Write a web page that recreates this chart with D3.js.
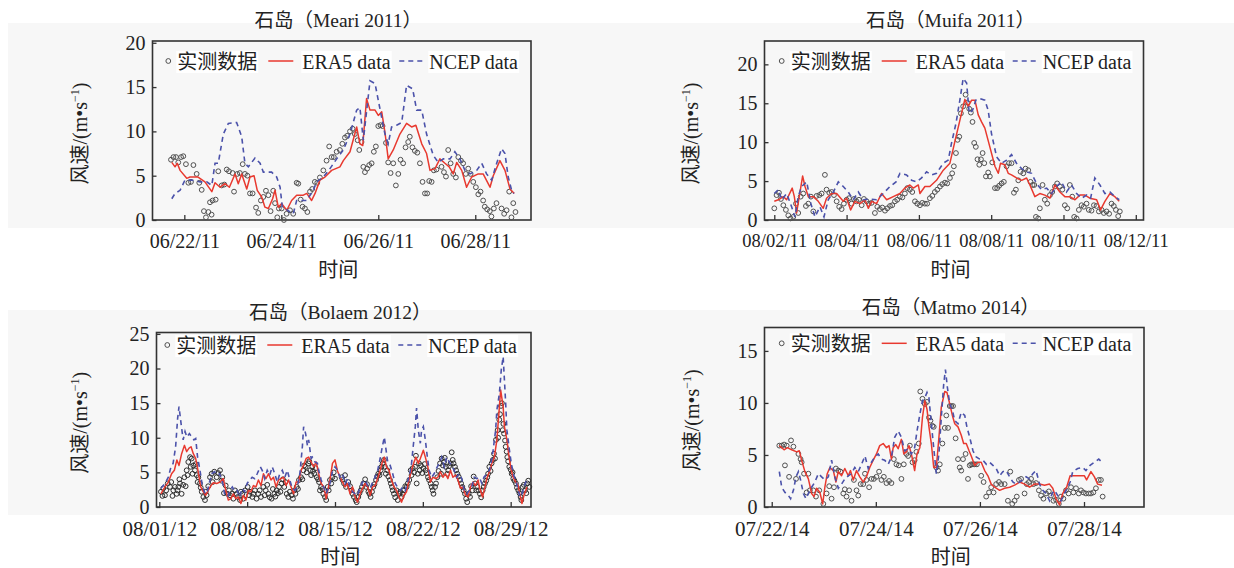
<!DOCTYPE html>
<html>
<head>
<meta charset="utf-8">
<script src="https://cdn.jsdelivr.net/npm/d3@7"></script>
<style>
  body { margin: 0; background: #fff; }
  svg { display: block; }
</style>
</head>
<body>
<svg id="chart" width="1234" height="568"></svg>
<script>
// ---- Meari 2011 : [hours after 06/22 00:00, wind speed] ----
const meariObs = [[-6.6,6.8],[-5.4,7.1],[-4.1,7.1],[-3.0,6.5],[-1.6,7.1],[-0.5,7.2],[0.8,6.3],[2.0,4.2],[3.3,4.3],[4.5,6.2],[6.1,5.2],[7.4,4.2],[8.6,3.4],[9.7,1.0],[10.7,0.3],[11.9,0.9],[12.7,2.0],[13.5,0.6],[14.0,2.2],[15.5,2.3],[16.8,5.5],[18.5,3.9],[19.8,4.0],[21.0,5.7],[22.1,5.5],[23.9,5.3],[24.6,3.2],[26.2,5.2],[27.5,5.3],[28.9,6.3],[30.0,5.2],[31.2,5.0],[32.5,3.0],[33.8,3.0],[35.5,1.4],[36.6,0.8],[37.9,2.2],[39.1,2.6],[40.4,3.3],[41.6,2.8],[42.7,1.0],[44.0,3.3],[44.9,1.9],[46.0,0.3],[46.8,1.3],[48.2,1.3],[49.3,0.0],[50.6,0.7],[52.3,1.1],[53.9,0.7],[55.6,4.2],[56.4,4.1],[57.6,2.3],[58.5,1.5],[59.7,1.3],[60.9,0.9],[62.2,3.2],[63.3,3.5],[64.6,4.3],[65.8,4.2],[67.1,4.8],[68.8,5.6],[70.4,6.7],[71.7,8.3],[72.9,7.1],[74.0,7.1],[75.4,7.7],[77.0,7.9],[78.2,8.6],[79.5,9.3],[80.6,9.5],[82.0,10.0],[83.3,10.3],[84.4,9.7],[85.8,9.0],[86.6,7.9],[87.7,8.8],[88.6,6.0],[89.4,5.4],[90.5,5.8],[91.5,6.2],[92.7,6.4],[93.8,7.7],[94.8,8.3],[96.0,10.6],[97.1,10.7],[98.1,10.6],[99.8,8.7],[100.9,6.5],[102.1,5.3],[103.4,6.4],[104.7,3.9],[105.9,5.2],[107.0,6.8],[108.3,6.4],[109.5,8.2],[110.8,8.8],[111.6,9.4],[112.9,8.2],[114.1,7.8],[115.3,7.6],[116.6,6.4],[117.9,4.3],[119.1,3.0],[120.2,3.0],[121.2,4.4],[122.4,4.3],[123.5,5.6],[124.8,5.7],[127.3,6.0],[128.5,5.4],[129.5,4.9],[130.6,7.9],[131.8,6.4],[133.1,5.2],[134.4,4.8],[135.6,7.1],[136.9,6.7],[138.0,6.4],[139.3,5.2],[140.5,5.8],[141.7,5.2],[143.0,4.3],[144.3,3.7],[145.5,2.9],[146.6,3.2],[147.9,2.2],[148.7,1.5],[149.9,1.2],[151.2,1.0],[152.0,0.4],[153.2,1.3],[154.5,1.9],[157.0,1.3],[158.3,0.7],[159.5,1.1],[160.8,3.2],[161.9,0.3],[162.8,1.9],[163.9,0.9]]
const meariEra5 = [[-6.2,6.5],[-4.6,6.0],[-3.5,6.4],[-2.1,5.6],[1.2,4.7],[2.8,4.85],[6.8,4.85],[10.2,4.3],[13.6,3.2],[15.2,4.2],[17.7,3.7],[20.1,4.1],[22.3,3.7],[25.1,5.2],[26.7,4.1],[28.4,5.2],[30.9,3.5],[32.5,4.85],[34.5,5.0],[36.1,3.35],[38.3,2.6],[39.9,1.45],[41.6,1.3],[43.7,2.4],[44.9,3.35],[46.5,1.45],[48.2,1.85],[50.7,1.1],[53.1,2.2],[55.6,2.8],[58.9,2.8],[60.6,3.0],[63.0,2.2],[64.7,3.0],[67.1,4.5],[69.6,4.85],[72.9,5.6],[77.0,6.0],[78.7,6.7],[82.0,7.7],[85.3,10.5],[86.9,8.6],[88.3,8.4],[90.2,13.7],[91.9,12.4],[94.4,12.4],[96.0,11.8],[97.7,12.2],[99.3,9.9],[100.9,6.9],[103.4,7.9],[106.7,9.7],[110.0,10.9],[112.5,10.5],[114.6,10.7],[117.5,8.6],[119.9,7.5],[121.6,5.6],[124.1,5.8],[126.5,6.9],[129.0,6.4],[131.1,6.0],[133.1,5.2],[134.8,6.5],[137.3,5.6],[139.7,3.7],[142.2,4.85],[145.5,5.2],[147.9,5.2],[151.3,3.7],[152.9,5.0],[156.2,6.7],[158.7,5.6],[161.2,3.5],[163.3,3.0]]
const meariNcep = [[-6.2,2.4],[-4.6,3.0],[-2.1,3.35],[0.3,4.5],[3.7,4.5],[7.8,4.3],[11.1,4.3],[13.6,3.9],[15.2,6.4],[16.8,6.4],[19.3,9.7],[21.8,10.9],[25.9,11.0],[28.4,9.4],[30.0,6.4],[31.7,6.0],[35.0,7.0],[37.5,6.4],[39.1,5.4],[43.2,5.4],[45.7,4.85],[47.4,3.7],[48.5,1.45],[53.9,0.7],[55.6,2.2],[60.6,2.2],[63.8,3.35],[65.5,4.3],[68.8,4.85],[72.1,5.8],[75.4,6.9],[78.7,7.9],[82.0,9.7],[85.3,12.4],[86.9,12.7],[88.6,9.0],[91.9,15.7],[94.4,15.4],[96.0,13.5],[99.3,9.7],[100.9,8.6],[102.6,10.5],[105.1,10.7],[107.6,11.0],[110.0,15.2],[113.0,14.8],[115.0,12.4],[117.5,12.4],[119.9,9.7],[123.2,7.3],[125.7,6.5],[128.2,6.9],[131.5,6.9],[133.9,7.7],[136.4,6.9],[138.9,5.6],[141.4,5.2],[144.7,5.6],[147.2,6.4],[149.6,5.2],[152.1,4.5],[154.6,6.4],[157.0,8.05],[158.7,7.5],[160.3,4.85],[162.0,3.35],[163.1,3.0]]
const meariTicks = ['2011-06-22', '2011-06-24', '2011-06-26', '2011-06-28']

// ---- Muifa 2011 : [hours after 08/02 00:00, wind speed] ----
const muifaObs = [[0,1.5],[1.5,3.2],[3.1,3.5],[4.4,2.7],[6.0,1.9],[7.7,1.3],[9.3,0.6],[10.8,0.2],[12.6,0.4],[14.4,2.1],[15.9,0.9],[17.5,3.0],[19.2,3.4],[21.0,1.8],[22.6,2.1],[24.3,3.0],[25.9,1.1],[28.1,3.1],[29.9,3.2],[31.4,3.4],[33.6,5.8],[34.7,3.9],[36.5,3.5],[38.1,3.6],[39.6,3.2],[41.4,2.4],[43.1,1.7],[44.7,1.4],[46.2,2.1],[48.0,2.6],[49.6,2.8],[51.3,2.1],[52.9,2.7],[54.6,2.4],[56.2,2.6],[58.0,1.9],[59.5,2.7],[61.3,2.4],[62.8,2.1],[64.6,2.2],[66.8,0.9],[68.4,1.7],[70.1,1.4],[71.7,1.6],[73.5,1.2],[75.0,1.5],[76.8,1.8],[78.3,1.9],[80.1,2.4],[81.6,2.6],[83.4,3.0],[85.0,2.9],[86.7,3.4],[88.3,4.1],[90.0,3.9],[91.6,3.6],[93.4,2.4],[94.9,2.1],[96.7,1.9],[98.2,2.2],[100.0,2.1],[101.5,2.1],[103.3,2.8],[104.9,3.1],[106.6,3.6],[108.2,3.9],[110.0,4.3],[111.5,4.6],[113.3,4.8],[114.8,4.7],[116.6,5.4],[118.1,6.0],[119.2,6.9],[120.6,8.6],[121.7,10.3],[122.8,10.7],[123.9,13.7],[125.4,14.6],[127.0,16.1],[128.1,15.1],[129.4,14.3],[130.5,13.8],[131.6,12.6],[132.7,9.9],[133.8,9.4],[134.9,7.8],[136.1,7.1],[137.2,7.8],[138.3,8.6],[139.4,7.3],[140.5,5.6],[142.0,6.1],[143.1,5.6],[144.7,7.4],[146.5,4.1],[148.0,4.1],[149.3,4.4],[150.9,4.7],[152.4,4.9],[154.2,6.9],[155.8,7.3],[157.5,7.3],[159.1,3.5],[160.4,3.9],[162.0,5.1],[163.5,6.2],[165.3,6.0],[166.8,6.6],[168.6,6.4],[170.1,4.9],[171.5,4.5],[172.6,4.5],[173.7,0.4],[175.2,0.2],[176.3,1.5],[178.1,4.5],[179.6,2.6],[181.2,2.1],[183.0,3.2],[184.5,3.6],[186.3,4.3],[187.8,4.7],[189.6,4.3],[191.2,3.9],[192.9,1.9],[194.5,1.5],[196.2,4.5],[197.8,3.0],[199.1,0.4],[200.7,0.2],[202.2,1.3],[204.0,1.9],[205.5,1.7],[207.3,2.1],[208.8,1.3],[210.6,1.2],[212.2,1.9],[213.9,1.8],[215.5,1.1],[217.3,1.3],[218.8,0.9],[220.6,1.1],[222.3,0.8],[223.9,2.1],[225.4,1.8],[226.8,1.3],[228.3,0.5],[229.4,1.1]]
const muifaEra5 = [[0,2.4],[2.7,2.6],[6.0,3.0],[8.2,2.6],[11.9,4.1],[13.3,3.0],[14.8,0.9],[18.8,5.65],[20.4,4.3],[22.6,3.0],[25.9,3.0],[29.2,2.4],[32.5,1.5],[34.7,2.8],[38.1,3.4],[41.4,3.4],[45.8,2.4],[48.0,2.8],[50.7,1.3],[53.5,2.4],[56.9,2.1],[60.2,2.6],[62.4,1.5],[64.6,2.4],[67.9,2.1],[71.2,3.4],[74.6,2.6],[79.0,3.0],[83.4,3.4],[86.7,4.1],[90.0,4.5],[92.3,4.1],[95.6,4.5],[96.7,3.4],[100.0,4.3],[103.3,4.3],[107.7,5.1],[112.2,6.4],[116.6,7.3],[119.9,10.1],[123.2,12.8],[126.5,15.5],[128.8,14.6],[131.0,15.4],[133.2,15.4],[135.4,13.5],[137.6,12.6],[139.8,11.8],[143.1,9.4],[146.5,6.9],[148.7,6.0],[150.2,7.3],[153.1,7.1],[155.3,6.0],[157.5,5.8],[160.8,5.4],[164.2,5.1],[167.5,5.4],[169.7,4.5],[173.0,3.0],[176.3,3.4],[179.6,3.2],[183.0,2.8],[186.3,4.5],[189.6,3.6],[192.9,3.0],[196.2,3.0],[199.6,2.6],[202.9,3.2],[206.2,3.2],[209.5,2.8],[214.0,2.6],[216.6,1.3],[219.5,2.4],[222.8,3.4],[226.1,3.0],[229.0,2.4]]
const muifaNcep = [[0,3.4],[2.7,3.9],[4.9,2.6],[8.2,3.4],[11.5,1.7],[13.7,0.4],[15.9,3.0],[18.1,4.3],[21.5,4.9],[24.3,2.1],[27.0,0.4],[30.3,1.7],[33.0,0.4],[35.8,2.6],[39.2,3.6],[42.5,4.9],[45.8,4.3],[49.1,3.6],[52.4,2.6],[55.8,3.6],[59.1,2.6],[63.5,2.7],[67.9,2.6],[72.3,3.4],[76.8,4.3],[80.8,4.9],[83.4,6.0],[87.8,5.8],[91.2,5.1],[94.5,4.9],[97.8,5.4],[101.1,6.2],[104.4,5.8],[107.7,6.0],[112.2,7.3],[115.5,7.7],[117.7,9.9],[120.6,12.4],[123.2,15.4],[125.4,18.2],[127.7,17.6],[129.4,13.7],[131.6,14.1],[133.8,15.4],[136.5,15.6],[139.8,15.4],[142.0,14.1],[144.2,11.1],[147.6,8.1],[150.9,7.3],[154.2,7.7],[157.5,8.4],[160.8,7.3],[164.2,6.6],[167.5,6.2],[170.8,6.0],[174.1,4.7],[177.4,3.9],[180.8,4.1],[184.1,3.4],[187.4,4.3],[190.7,4.9],[194.0,3.6],[197.3,4.5],[200.7,3.4],[204.0,2.8],[207.3,3.2],[210.0,2.8],[212.8,5.4],[216.2,4.5],[219.5,3.4],[222.8,3.6],[226.1,3.0],[229.0,2.6]]
const muifaTicks = ['2011-08-02', '2011-08-04', '2011-08-06', '2011-08-08', '2011-08-10', '2011-08-12']

// ---- Bolaem 2012 : [days after 08/01 00:00, wind speed] ----
const bolaemObs = [[0.13,2.2],[0.25,1.6],[0.32,2.7],[0.45,1.7],[0.55,2.4],[0.67,3.4],[0.85,2.9],[0.95,3.6],[1.05,1.6],[1.12,2.4],[1.25,2.9],[1.38,1.9],[1.45,2.4],[1.52,2.9],[1.6,4.0],[1.65,3.4],[1.78,1.9],[1.9,3.2],[2.0,4.3],[2.1,3.0],[2.18,5.3],[2.25,4.6],[2.31,6.5],[2.45,7.2],[2.5,5.8],[2.58,7.0],[2.65,4.8],[2.71,6.0],[2.84,5.3],[2.9,6.2],[2.98,4.6],[3.05,3.6],[3.11,4.3],[3.24,3.4],[3.3,2.8],[3.38,2.2],[3.51,1.45],[3.64,1.0],[3.7,2.2],[3.77,1.7],[3.9,3.0],[4.04,4.3],[4.17,4.8],[4.25,3.6],[4.38,5.1],[4.57,4.3],[4.7,4.9],[4.84,5.3],[4.95,3.8],[5.02,4.3],[5.15,2.0],[5.29,3.1],[5.45,1.9],[5.55,2.4],[5.63,1.7],[5.82,1.9],[5.9,1.2],[6.03,2.4],[6.15,1.9],[6.25,1.45],[6.43,1.0],[6.5,2.2],[6.62,1.9],[6.7,1.2],[6.83,2.4],[7.04,2.9],[7.15,1.7],[7.23,2.2],[7.41,1.45],[7.5,1.9],[7.62,2.4],[7.75,1.2],[7.89,1.9],[8.0,2.4],[8.1,1.45],[8.29,2.9],[8.4,1.7],[8.48,2.4],[8.6,3.2],[8.69,1.9],[8.8,1.4],[8.95,1.2],[9.05,2.6],[9.17,1.9],[9.25,1.5],[9.35,2.4],[9.45,2.0],[9.54,2.9],[9.65,2.2],[9.75,3.4],[9.85,4.0],[9.96,2.9],[10.05,3.6],[10.15,1.9],[10.28,1.45],[10.4,2.2],[10.55,1.7],[10.65,1.2],[10.76,2.4],[10.85,1.9],[10.95,2.9],[11.05,2.6],[11.13,3.9],[11.29,4.3],[11.4,4.0],[11.48,5.3],[11.55,6.0],[11.66,5.8],[11.75,5.0],[11.88,6.3],[11.95,6.6],[12.03,5.3],[12.1,4.6],[12.19,5.8],[12.25,5.2],[12.35,4.8],[12.45,5.6],[12.54,4.3],[12.65,4.0],[12.73,3.6],[12.8,2.4],[12.89,2.9],[13.0,2.6],[13.07,1.9],[13.2,1.45],[13.3,1.0],[13.42,2.9],[13.5,2.4],[13.6,3.9],[13.7,3.4],[13.79,4.3],[13.9,5.0],[14.0,4.1],[14.53,4.3],[14.6,3.9],[14.72,3.4],[14.8,4.6],[14.88,2.9],[15.06,3.6],[15.2,3.0],[15.33,2.4],[15.4,1.9],[15.51,1.45],[15.65,1.0],[15.73,0.7],[15.86,1.45],[15.95,2.0],[16.05,2.4],[16.15,2.9],[16.26,3.4],[16.4,4.0],[16.47,2.9],[16.55,3.3],[16.66,2.2],[16.75,1.9],[16.84,1.45],[16.95,2.2],[17.06,2.9],[17.15,3.3],[17.27,3.9],[17.35,4.4],[17.45,4.8],[17.55,4.6],[17.64,5.3],[17.7,5.8],[17.8,6.3],[17.9,6.8],[17.98,5.8],[18.05,4.8],[18.17,5.3],[18.25,4.4],[18.38,3.9],[18.45,3.4],[18.54,2.9],[18.6,2.4],[18.7,1.9],[18.8,1.4],[18.91,2.4],[19.0,1.0],[19.13,1.9],[19.2,2.2],[19.31,1.45],[19.4,1.9],[19.5,2.4],[19.6,3.0],[19.71,2.9],[19.8,3.4],[19.92,3.9],[20.03,5.3],[20.1,4.6],[20.19,5.6],[20.3,5.0],[20.38,5.8],[20.45,7.4],[20.51,3.4],[20.6,4.8],[20.69,6.3],[20.75,5.3],[20.85,6.0],[20.95,4.9],[21.04,5.6],[21.15,6.2],[21.22,5.3],[21.3,4.9],[21.41,4.3],[21.5,3.9],[21.62,3.4],[21.7,2.9],[21.78,2.4],[21.85,1.9],[21.97,2.9],[22.05,3.4],[22.15,4.3],[22.25,5.2],[22.37,6.3],[22.45,4.8],[22.5,7.0],[22.6,6.0],[22.69,6.5],[22.75,7.1],[22.84,5.8],[22.95,4.8],[23.03,5.3],[23.1,5.9],[23.22,6.3],[23.3,7.9],[23.38,6.8],[23.45,6.3],[23.56,5.8],[23.65,5.3],[23.75,4.8],[23.85,4.4],[23.96,3.9],[24.05,3.4],[24.15,2.9],[24.25,2.4],[24.36,1.9],[24.45,1.2],[24.54,0.7],[24.65,1.9],[24.76,1.45],[24.85,3.0],[24.97,2.4],[25.05,4.4],[25.16,3.4],[25.25,2.4],[25.34,2.9],[25.45,2.4],[25.55,1.9],[25.65,1.4],[25.77,2.4],[25.85,2.9],[25.95,3.4],[26.05,3.8],[26.14,4.3],[26.2,4.8],[26.3,5.8],[26.4,5.2],[26.48,6.3],[26.58,6.8],[26.67,7.7],[26.75,7.0],[26.83,9.7],[26.96,11.1],[27.0,10.0],[27.09,12.6],[27.15,13.4],[27.23,14.6],[27.3,15.0],[27.36,11.1],[27.42,12.0],[27.47,10.6],[27.55,9.6],[27.6,8.7],[27.68,8.0],[27.73,7.2],[27.8,6.6],[27.89,5.8],[28.0,5.4],[28.08,4.8],[28.15,5.0],[28.21,4.1],[28.3,3.8],[28.42,3.4],[28.5,2.8],[28.61,2.4],[28.7,2.0],[28.79,1.45],[28.85,1.0],[28.95,2.9],[29.05,3.2],[29.14,2.4],[29.25,2.0],[29.33,3.4],[29.4,3.8],[29.49,2.9]]
const bolaemEra5 = [[0.13,1.9],[0.45,2.9],[0.72,3.6],[0.98,4.8],[1.2,5.3],[1.4,6.8],[1.57,6.0],[1.78,7.7],[2.0,8.9],[2.18,8.0],[2.37,8.5],[2.53,8.7],[2.71,7.7],[2.9,7.0],[3.1,5.1],[3.3,2.9],[3.5,2.2],[3.7,1.7],[3.9,2.4],[4.12,3.1],[4.3,3.5],[4.57,3.4],[4.84,3.6],[5.1,4.1],[5.3,2.4],[5.5,1.0],[5.7,1.2],[5.9,1.9],[6.1,1.2],[6.3,1.45],[6.5,0.5],[6.7,1.7],[6.9,1.0],[7.1,2.4],[7.3,2.2],[7.5,3.1],[7.7,2.9],[7.9,3.9],[8.1,3.1],[8.3,4.8],[8.5,4.1],[8.7,4.8],[8.9,3.9],[9.1,4.3],[9.3,2.9],[9.5,3.9],[9.7,4.1],[9.9,4.3],[10.1,3.1],[10.3,3.9],[10.5,2.9],[10.7,1.9],[10.9,3.6],[11.1,3.6],[11.3,5.3],[11.5,6.0],[11.7,7.0],[11.9,7.2],[12.1,6.5],[12.3,5.8],[12.5,6.5],[12.7,4.8],[12.9,3.4],[13.1,2.9],[13.3,1.2],[13.4,2.2],[13.6,3.9],[13.8,6.3],[14.0,6.8],[14.2,5.2],[14.4,4.3],[14.6,3.6],[14.8,2.9],[14.99,3.4],[15.2,1.9],[15.4,2.9],[15.6,1.45],[15.8,0.7],[16.0,1.9],[16.2,2.7],[16.4,3.4],[16.6,2.9],[16.8,1.7],[17.0,2.9],[17.2,3.1],[17.4,4.1],[17.6,5.3],[17.77,6.5],[17.93,7.2],[18.1,5.8],[18.3,5.3],[18.5,3.9],[18.7,2.9],[18.9,2.4],[19.1,1.45],[19.3,0.7],[19.5,1.7],[19.7,2.2],[19.9,3.9],[20.1,5.3],[20.3,6.5],[20.45,7.2],[20.64,6.3],[20.8,7.0],[21.04,8.2],[21.2,7.2],[21.4,5.8],[21.6,3.6],[21.8,4.3],[22.05,4.1],[22.2,4.3],[22.4,5.1],[22.6,4.3],[22.8,4.8],[23.0,4.1],[23.2,5.3],[23.4,4.3],[23.6,4.6],[23.8,3.9],[24.0,2.7],[24.2,2.9],[24.4,1.7],[24.6,1.45],[24.8,2.9],[25.0,3.6],[25.2,3.1],[25.4,3.9],[25.5,2.9],[25.76,1.45],[25.95,2.9],[26.1,4.1],[26.35,5.3],[26.5,6.3],[26.7,7.2],[26.9,9.7],[27.04,13.0],[27.2,16.9],[27.4,14.5],[27.5,11.6],[27.7,9.7],[27.87,7.2],[28.05,5.3],[28.2,4.3],[28.4,3.6],[28.6,3.1],[28.74,1.7],[28.9,0.5],[29.06,1.7],[29.3,2.9]]
const bolaemNcep = [[0.13,2.7],[0.45,3.4],[0.72,4.3],[0.93,5.8],[1.1,6.3],[1.3,8.7],[1.46,12.8],[1.57,14.5],[1.73,12.1],[1.9,9.7],[2.05,10.9],[2.2,10.1],[2.4,10.6],[2.58,10.1],[2.76,9.7],[2.9,9.9],[3.05,7.2],[3.24,5.3],[3.4,3.4],[3.64,1.9],[3.85,2.4],[4.0,3.6],[4.2,4.8],[4.4,5.1],[4.65,4.6],[4.8,4.8],[5.0,3.9],[5.2,1.9],[5.45,1.45],[5.63,2.4],[5.82,2.9],[6.03,2.2],[6.2,2.4],[6.4,1.45],[6.6,2.7],[6.8,2.2],[7.0,3.4],[7.2,3.9],[7.4,4.3],[7.6,4.1],[7.8,4.8],[8.05,5.8],[8.2,5.3],[8.4,4.1],[8.6,5.3],[8.8,4.6],[9.0,5.8],[9.2,4.8],[9.4,3.6],[9.6,4.8],[9.8,5.3],[10.0,4.3],[10.2,5.3],[10.4,3.9],[10.6,2.7],[10.8,2.4],[11.0,2.9],[11.2,4.8],[11.4,8.7],[11.5,11.6],[11.66,10.6],[11.8,8.9],[11.9,9.7],[12.1,7.0],[12.2,7.2],[12.4,6.5],[12.6,6.3],[12.7,5.3],[12.9,3.9],[13.1,2.9],[13.3,1.9],[13.4,2.4],[13.6,3.4],[13.8,5.1],[14.0,5.8],[14.2,5.3],[14.4,4.3],[14.6,4.8],[14.8,3.4],[15.0,4.1],[15.2,2.9],[15.4,2.2],[15.6,1.9],[15.8,1.7],[16.0,2.9],[16.2,3.6],[16.4,3.9],[16.6,3.1],[16.8,2.7],[17.0,3.6],[17.2,4.3],[17.4,5.3],[17.6,7.0],[17.77,8.7],[17.93,10.1],[18.05,8.5],[18.2,6.5],[18.4,6.0],[18.6,4.8],[18.8,3.4],[18.97,2.9],[19.2,2.4],[19.4,2.9],[19.6,2.4],[19.75,3.4],[19.96,4.8],[20.1,6.3],[20.23,8.7],[20.4,11.6],[20.5,14.3],[20.64,11.1],[20.8,9.2],[20.9,11.1],[21.04,11.6],[21.2,9.7],[21.36,7.2],[21.5,5.3],[21.7,4.3],[21.9,4.8],[22.1,5.6],[22.3,6.3],[22.5,7.2],[22.7,5.8],[22.9,7.2],[23.1,6.5],[23.3,6.0],[23.5,5.3],[23.7,4.3],[23.9,4.8],[24.1,4.1],[24.3,2.4],[24.5,1.9],[24.7,2.4],[24.9,2.9],[25.1,4.3],[25.3,4.1],[25.5,4.3],[25.7,3.4],[25.87,4.3],[26.1,4.8],[26.3,5.3],[26.45,6.5],[26.6,8.2],[26.8,11.1],[26.9,14.0],[27.1,16.4],[27.25,19.8],[27.4,21.7],[27.5,18.4],[27.6,15.0],[27.7,11.1],[27.9,8.2],[28.05,6.3],[28.2,4.8],[28.4,3.9],[28.6,2.4],[28.74,1.45],[28.9,1.9],[29.06,2.9],[29.3,4.1]]
const bolaemTicks = ['2012-08-01', '2012-08-08', '2012-08-15', '2012-08-22', '2012-08-29']

// ---- Matmo 2014 : [hours after 07/22 00:00, wind speed] ----
const matmoObs = [[3.5,5.9],[4.6,5.9],[5.7,6.0],[6.9,5.9],[8.9,6.4],[10.0,5.8],[6.1,4.0],[8.0,2.9],[11.2,2.7],[12.3,5.1],[13.3,4.6],[13.8,4.3],[14.9,3.2],[16.9,3.2],[16.1,1.4],[17.6,1.6],[19.2,1.6],[20.4,1.0],[21.9,1.6],[23.8,0.3],[25.3,1.3],[26.5,2.0],[27.6,0.8],[28.7,1.9],[29.6,3.7],[30.7,3.5],[31.7,3.4],[33.0,1.3],[33.7,1.7],[34.5,1.0],[35.7,1.6],[36.8,0.6],[37.9,2.6],[39.1,1.6],[39.9,1.1],[41.0,2.2],[42.2,2.2],[43.0,3.2],[43.7,2.6],[44.9,1.9],[46.0,2.7],[47.1,2.7],[48.3,2.9],[49.5,3.4],[50.6,2.6],[51.7,2.9],[52.9,2.3],[54.1,2.5],[55.2,2.3],[56.3,4.6],[57.5,4.1],[58.6,4.0],[59.8,2.7],[60.9,4.1],[62.1,5.1],[62.9,4.9],[63.7,5.9],[64.9,4.3],[65.9,4.5],[66.7,5.3],[67.8,6.1],[68.5,11.1],[69.5,10.4],[70.6,9.9],[71.6,10.1],[72.5,8.6],[73.2,8.3],[74.1,7.8],[74.7,7.7],[75.9,3.8],[76.7,3.5],[77.5,4.1],[78.7,6.1],[79.8,7.6],[80.5,8.8],[81.3,7.6],[82.1,9.7],[82.8,9.7],[83.6,9.7],[84.8,6.6],[85.9,4.6],[86.7,3.8],[87.4,3.5],[88.2,4.6],[89.4,5.1],[90.5,2.7],[91.3,4.0],[92.0,4.1],[92.8,4.1],[93.6,4.1],[94.6,4.1],[96.6,3.0],[97.7,2.4],[98.9,1.0],[100.2,1.4],[101.2,1.9],[102.3,1.4],[103.5,2.2],[104.8,2.4],[105.8,2.2],[107.4,2.2],[108.9,0.6],[110.0,3.4],[110.9,0.3],[112.0,0.6],[113.0,1.0],[114.0,2.6],[115.0,2.7],[116.6,1.3],[117.6,2.2],[118.6,2.4],[119.6,2.7],[120.7,2.2],[121.9,2.3],[123.2,1.6],[124.2,1.1],[125.3,0.8],[126.5,1.3],[127.8,1.5],[128.8,1.1],[129.9,0.6],[131.1,0.7],[132.4,0.3],[133.4,1.0],[134.5,0.8],[135.7,1.6],[136.9,1.3],[138.0,1.9],[139.1,1.4],[140.3,1.8],[141.6,1.3],[142.6,1.6],[143.7,1.4],[144.9,1.3],[146.2,1.3],[147.2,1.3],[148.3,1.4],[149.5,1.8],[150.8,2.6],[151.8,2.6],[152.6,1.0]]
const matmoEra5 = [[3.5,5.9],[5.7,5.5],[7.2,5.7],[9.2,5.5],[11.5,5.3],[12.7,5.4],[13.8,4.5],[15.3,3.4],[16.9,2.7],[18.4,1.3],[19.5,1.0],[20.7,1.8],[22.2,1.4],[23.5,0.3],[24.5,1.9],[25.6,3.2],[26.8,3.8],[28.4,3.5],[29.6,2.4],[30.7,3.4],[32.2,3.0],[33.7,3.7],[35.3,3.0],[36.3,3.5],[37.6,2.6],[39.1,3.5],[40.6,2.9],[42.2,2.4],[43.7,2.9],[45.2,3.8],[46.8,4.5],[48.3,5.1],[49.8,5.9],[51.4,6.1],[52.9,5.7],[54.1,5.9],[55.2,4.6],[56.0,5.7],[57.2,6.0],[58.3,5.6],[59.8,6.5],[60.9,5.1],[62.1,5.3],[63.3,5.9],[64.4,5.1],[65.9,3.5],[67.0,5.1],[68.3,5.7],[69.5,8.6],[70.6,10.2],[71.6,9.4],[72.5,7.7],[73.6,6.1],[74.7,3.8],[75.9,3.8],[77.1,6.7],[78.2,9.6],[79.8,11.1],[80.8,11.0],[82.1,9.9],[83.3,8.8],[84.4,8.0],[85.9,7.7],[87.4,6.9],[88.5,6.1],[89.7,6.1],[91.0,5.4],[92.0,4.9],[93.6,4.0],[95.1,4.3],[96.6,4.3],[98.2,3.5],[99.7,3.0],[101.2,2.2],[102.8,1.9],[105.1,1.6],[107.4,1.8],[109.7,1.9],[112.0,2.1],[114.3,2.4],[116.6,2.2],[118.9,1.9],[121.2,2.2],[123.5,2.2],[125.8,2.1],[128.1,2.2],[129.6,1.8],[131.1,0.8],[132.7,0.2],[134.2,1.3],[136.0,1.9],[137.6,3.0],[139.6,3.0],[141.9,3.0],[144.2,3.0],[145.2,2.6],[147.2,3.4],[148.8,2.9],[150.3,2.2],[152.3,2.1]]
const matmoNcep = [[3.5,3.4],[4.6,1.9],[6.1,1.4],[7.7,1.1],[8.7,0.8],[10.0,1.6],[11.2,2.9],[12.3,3.4],[13.3,2.6],[14.6,1.3],[15.8,0.8],[16.9,1.3],[18.4,1.9],[19.9,2.4],[21.5,3.2],[23.0,2.9],[24.5,2.6],[26.1,2.9],[27.6,4.5],[29.1,2.9],[30.7,1.8],[32.2,2.2],[33.7,2.7],[35.3,3.0],[36.8,3.2],[38.3,3.8],[39.9,3.4],[41.4,4.1],[43.0,4.9],[44.5,3.7],[46.0,4.3],[47.5,4.8],[49.1,5.1],[50.6,4.6],[52.1,4.5],[53.7,4.1],[55.2,4.8],[56.7,6.7],[58.3,7.3],[59.8,6.7],[61.3,5.4],[62.9,5.6],[64.4,5.1],[65.9,5.7],[67.0,7.3],[68.3,8.9],[69.5,10.2],[70.6,10.5],[71.6,11.0],[72.5,10.5],[73.6,8.0],[74.7,5.7],[75.9,3.2],[77.1,5.1],[78.2,8.6],[79.3,11.8],[80.1,13.2],[81.0,11.5],[82.1,9.9],[83.3,9.3],[84.4,8.3],[85.9,8.0],[87.4,9.1],[89.0,8.8],[90.0,7.7],[91.3,6.7],[92.8,5.4],[94.3,4.8],[95.9,4.6],[97.4,4.5],[99.0,4.1],[100.5,4.3],[102.0,4.0],[103.5,3.7],[105.1,3.0],[106.6,3.4],[108.1,3.5],[109.7,2.9],[111.2,2.4],[112.7,2.2],[114.3,2.4],[115.8,2.6],[117.3,2.9],[118.9,2.7],[120.4,3.2],[121.9,3.5],[123.5,2.2],[125.0,1.6],[126.5,1.3],[128.1,0.6],[129.3,1.3],[130.4,1.6],[131.9,1.1],[133.4,0.6],[135.0,1.3],[136.5,1.9],[137.6,2.4],[138.8,3.4],[141.1,3.7],[143.4,3.8],[144.9,3.5],[146.8,4.0],[148.8,4.3],[150.8,4.6],[152.3,4.3]]
const matmoTicks = ['2014-07-22', '2014-07-24', '2014-07-26', '2014-07-28']

const seriesNames = ['实测数据', 'ERA5 data', 'NCEP data']

const HOUR = 3600 * 1000
const utc = s => new Date(s + (s.length === 10 ? 'T00:00:00Z' : ':00Z'))
const FONT = "'Liberation Serif', 'Times New Roman', 'Noto Sans CJK SC', serif"
const RED = '#e8392f'
const BLUE = '#4b52aa'
const OBS = '#505050'

const panels = [
  { name: 'Meari 2011', obs: meariObs, era5: meariEra5, ncep: meariNcep, ticks: meariTicks,
    t0: '2011-06-22', unit: 1, start: '2011-06-21T08:15', end: '2011-06-29T03:35',
    yMax: 20.2, yTicks: [0, 5, 10, 15, 20], xTickFont: 20, obsColor: OBS,
    left: 152.5, right: 531, top: 41, bottom: 220, legendX: 168.3, legendY: 61, yLabelX: 87 },
  { name: 'Muifa 2011', obs: muifaObs, era5: muifaEra5, ncep: muifaNcep, ticks: muifaTicks,
    t0: '2011-08-02', unit: 1, start: '2011-08-01T17:30', end: '2011-08-12T05:07',
    yMax: 23, yTicks: [0, 5, 10, 15, 20], xTickFont: 18.5, obsColor: OBS,
    left: 764.5, right: 1143.5, top: 41, bottom: 220, legendX: 781.7, legendY: 61, yLabelX: 698 },
  { name: 'Bolaem 2012', obs: bolaemObs, era5: bolaemEra5, ncep: bolaemNcep, ticks: bolaemTicks,
    t0: '2012-08-01', unit: 24, start: '2012-07-31T18:38', end: '2012-08-30T14:52',
    yMax: 25.2, yTicks: [0, 5, 10, 15, 20, 25], xTickFont: 21, obsColor: '#2e2e2e',
    left: 156.5, right: 531, top: 332.5, bottom: 507, legendX: 167.3, legendY: 345, yLabelX: 87 },
  { name: 'Matmo 2014', obs: matmoObs, era5: matmoEra5, ncep: matmoNcep, ticks: matmoTicks,
    t0: '2014-07-22', unit: 1, start: '2014-07-21T20:40', end: '2014-07-29T03:40',
    yMax: 17.25, yTicks: [0, 5, 10, 15], xTickFont: 21, obsColor: OBS,
    left: 764.5, right: 1144, top: 327.5, bottom: 507, legendX: 781.7, legendY: 343.3, yLabelX: 699 }
]

const svg = d3.select('#chart')

// faint grey bands behind each row of panels
svg.append('rect').attr('x', 8).attr('y', 23).attr('width', 1226).attr('height', 205).attr('fill', '#f7f7f7')
svg.append('rect').attr('x', 8).attr('y', 310).attr('width', 1226).attr('height', 205).attr('fill', '#f7f7f7')

const drawPanel = p => {
  const g = svg.append('g')
  const t0 = utc(p.t0).getTime()
  const x = d3.scaleUtc().domain([utc(p.start), utc(p.end)]).range([p.left, p.right])
  const y = d3.scaleLinear().domain([0, p.yMax]).range([p.bottom, p.top])
  const px = d => x(new Date(t0 + d[0] * p.unit * HOUR))
  const py = d => y(d[1])

  // axes
  const xAxis = g.append('g')
    .attr('transform', `translate(0,${p.bottom})`)
    .call(d3.axisBottom(x)
      .tickValues(p.ticks.map(utc))
      .tickSizeInner(-5)
      .tickSizeOuter(0)
      .tickPadding(14)
      .tickFormat(d3.utcFormat('%m/%d/%y')))
  const yAxis = g.append('g')
    .attr('transform', `translate(${p.left},0)`)
    .call(d3.axisLeft(y)
      .tickValues(p.yTicks)
      .tickSizeInner(-4)
      .tickSizeOuter(0)
      .tickPadding(7))
  ;[xAxis, yAxis].forEach(a => {
    a.attr('font-family', FONT).attr('font-size', 20).style('color', '#333')
    a.select('.domain').remove()
    a.selectAll('line').attr('stroke-width', 1.3)
    a.selectAll('text').attr('fill', '#222')
  })
  xAxis.attr('font-size', p.xTickFont)

  g.append('rect')
    .attr('x', p.left).attr('y', p.top)
    .attr('width', p.right - p.left).attr('height', p.bottom - p.top)
    .attr('fill', 'none').attr('stroke', '#333').attr('stroke-width', 1.6)

  // data
  const line = d3.line().x(px).y(py)
  g.append('g').selectAll('circle')
    .data(p.obs)
    .enter()
    .append('circle')
    .attr('cx', px).attr('cy', py).attr('r', 2.4)
    .attr('fill', 'none').attr('stroke', p.obsColor).attr('stroke-width', 1)
  g.append('path').datum(p.era5)
    .attr('d', line).attr('fill', 'none')
    .attr('stroke', RED).attr('stroke-width', 1.5).attr('stroke-linejoin', 'round')
  g.append('path').datum(p.ncep)
    .attr('d', line).attr('fill', 'none')
    .attr('stroke', BLUE).attr('stroke-width', 1.6).attr('stroke-dasharray', '5,4')

  // legend
  const lg = g.append('g').attr('transform', `translate(${p.legendX},${p.legendY})`)
  const label = (xx, txt) => {
    const bg = lg.append('rect').attr('fill', '#fff')
    const t = lg.append('text')
      .attr('x', xx).attr('y', 8)
      .attr('font-family', FONT).attr('font-size', 20).attr('fill', '#222')
      .text(txt)
    const b = t.node().getBBox()
    bg.attr('x', b.x - 1).attr('y', b.y).attr('width', b.width + 2).attr('height', b.height)
  }
  lg.append('circle').attr('r', 2.4).attr('fill', 'none').attr('stroke', OBS).attr('stroke-width', 1)
  label(9, seriesNames[0])
  lg.append('line').attr('x1', 100).attr('x2', 125).attr('stroke', RED).attr('stroke-width', 1.5)
  label(134, seriesNames[1])
  lg.append('line').attr('x1', 231).attr('x2', 254).attr('stroke', BLUE).attr('stroke-width', 1.6).attr('stroke-dasharray', '5,4')
  label(261, seriesNames[2])

  // titles and axis labels
  const cx = (p.left + p.right) / 2 - 3.5
  g.append('text')
    .attr('x', cx).attr('y', p.top - 14)
    .attr('text-anchor', 'middle')
    .attr('font-family', FONT).attr('font-size', 19.5).attr('fill', '#222')
    .text(`石岛（${p.name}）`)
  g.append('text')
    .attr('x', cx).attr('y', p.bottom + 57)
    .attr('text-anchor', 'middle')
    .attr('font-family', FONT).attr('font-size', 20).attr('fill', '#222')
    .text('时间')
  const yl = g.append('text')
    .attr('transform', `translate(${p.yLabelX},${(p.top + p.bottom) / 2 + 3}) rotate(-90)`)
    .attr('text-anchor', 'middle')
    .attr('font-family', FONT).attr('font-size', 20).attr('fill', '#222')
  yl.append('tspan').text('风速/(m•s')
  yl.append('tspan').attr('dy', -8).attr('font-size', 12).text('−1')
  yl.append('tspan').attr('dy', 8).text(')')
}

panels.forEach(drawPanel)
</script>
</body>
</html>
